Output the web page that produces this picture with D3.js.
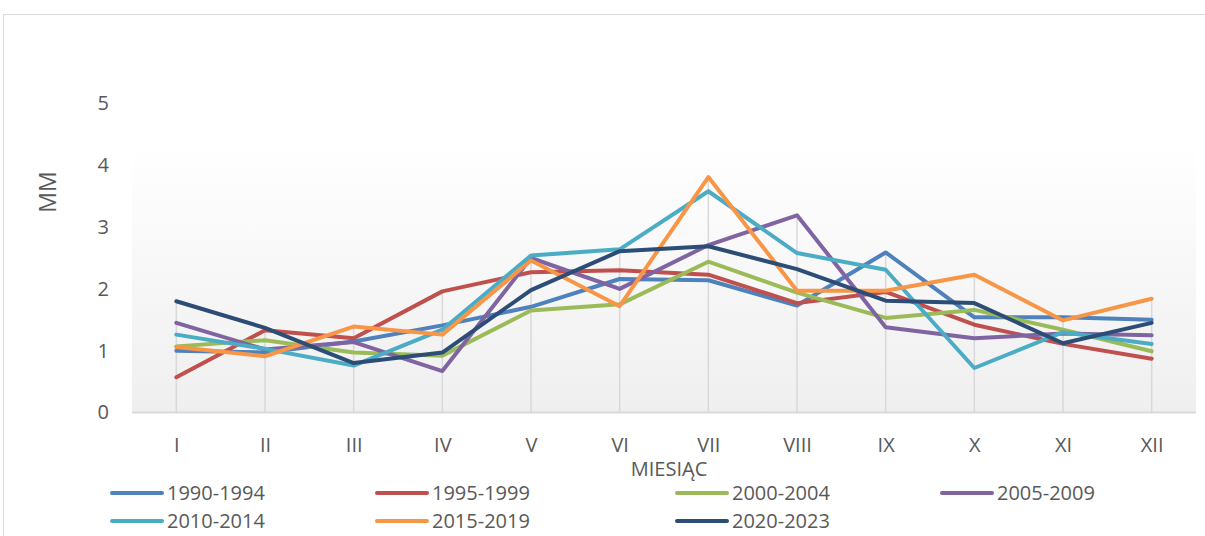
<!DOCTYPE html>
<html>
<head>
<meta charset="utf-8">
<script src="https://cdn.jsdelivr.net/npm/d3@7"></script>
<style>
    body { margin: 0; background: #fff; }
    svg { display: block; }
</style>
</head>
<body>
<svg id="chart"></svg>
<script>
// months on the x axis
const months = ['I', 'II', 'III', 'IV', 'V', 'VI', 'VII', 'VIII', 'IX', 'X', 'XI', 'XII'];
const yTicks = [0, 1, 2, 3, 4, 5];

// series values (mm)
const s1990_1994 = [1.00, 0.97, 1.15, 1.41, 1.71, 2.16, 2.14, 1.73, 2.59, 1.54, 1.54, 1.50];
const s1995_1999 = [0.57, 1.33, 1.20, 1.96, 2.27, 2.30, 2.23, 1.77, 1.95, 1.42, 1.11, 0.87];
const s2000_2004 = [1.07, 1.17, 0.97, 0.92, 1.65, 1.75, 2.44, 1.94, 1.53, 1.66, 1.34, 0.99];
const s2005_2009 = [1.45, 1.02, 1.14, 0.67, 2.50, 2.00, 2.71, 3.19, 1.38, 1.20, 1.28, 1.25];
const s2010_2014 = [1.26, 1.03, 0.76, 1.34, 2.54, 2.64, 3.58, 2.58, 2.31, 0.72, 1.30, 1.11];
const s2015_2019 = [1.06, 0.91, 1.39, 1.26, 2.46, 1.72, 3.81, 1.97, 1.97, 2.23, 1.49, 1.84];
const s2020_2023 = [1.80, 1.37, 0.80, 0.97, 1.98, 2.61, 2.69, 2.32, 1.81, 1.77, 1.12, 1.45];

const seriesNames = ['1990-1994', '1995-1999', '2000-2004', '2005-2009', '2010-2014', '2015-2019', '2020-2023'];
const seriesValues = [s1990_1994, s1995_1999, s2000_2004, s2005_2009, s2010_2014, s2015_2019, s2020_2023];
const seriesColors = ['#4F81BD', '#C0504D', '#9BBB59', '#8064A2', '#4BACC6', '#F79646', '#2C4D75'];

const width = 1205;
const height = 536;
const plot = { left: 132, right: 1196, top: 103.5, bottom: 412.5, shadeTop: 145 };
const font = '"Open Sans", sans-serif';
const textColor = '#595959';

const svg = d3.select('#chart').attr('width', width).attr('height', height);

// chart area border (only top and left edges are inside the picture)
svg.append('rect')
    .attr('x', 3.5)
    .attr('y', 14.5)
    .attr('width', width + 10)
    .attr('height', height + 10)
    .attr('fill', 'white')
    .attr('stroke', '#d9d9d9')
    .attr('stroke-width', 1);

// plot area shading
const grad = svg.append('defs').append('linearGradient')
    .attr('id', 'plotFill')
    .attr('x1', 0).attr('y1', 0).attr('x2', 0).attr('y2', 1);
grad.append('stop').attr('offset', '0%').attr('stop-color', '#ffffff');
grad.append('stop').attr('offset', '100%').attr('stop-color', '#efefef');

svg.append('rect')
    .attr('x', plot.left)
    .attr('y', plot.shadeTop)
    .attr('width', plot.right - plot.left)
    .attr('height', plot.bottom - plot.shadeTop)
    .attr('fill', 'url(#plotFill)');

const xScale = d3.scalePoint()
    .domain(months)
    .range([plot.left, plot.right])
    .padding(0.5);

const yScale = d3.scaleLinear()
    .domain([0, 5])
    .range([plot.bottom, plot.top]);

// drop lines from the highest value down to the axis
svg.append('g')
    .selectAll('line')
    .data(months)
    .enter()
    .append('line')
    .attr('x1', d => xScale(d))
    .attr('x2', d => xScale(d))
    .attr('y1', plot.bottom)
    .attr('y2', (d, i) => yScale(d3.max(seriesValues, s => s[i])))
    .attr('stroke', '#d9d9d9')
    .attr('stroke-width', 1.5);

// x axis
const xAxis = svg.append('g')
    .attr('transform', `translate(0, ${plot.bottom})`)
    .call(d3.axisBottom(xScale).tickSize(0).tickPadding(25));
xAxis.select('.domain')
    .attr('d', `M${plot.left},0H${plot.right}`)
    .attr('stroke', '#d9d9d9')
    .attr('stroke-width', 2);
xAxis.selectAll('text')
    .attr('font-family', font)
    .attr('font-size', '20px')
    .attr('fill', textColor);

// y axis (labels only)
const yAxis = svg.append('g')
    .attr('transform', `translate(109, 0)`)
    .call(d3.axisLeft(yScale).tickValues(yTicks).tickFormat(d3.format('d')).tickSize(0).tickPadding(0));
yAxis.select('.domain').remove();
yAxis.selectAll('text')
    .attr('font-family', font)
    .attr('font-size', '20px')
    .attr('fill', textColor);

// axis titles
svg.append('text')
    .attr('transform', 'translate(56, 192) rotate(-90)')
    .attr('text-anchor', 'middle')
    .attr('font-family', font)
    .attr('font-size', '23px')
    .attr('fill', textColor)
    .text('MM');

svg.append('text')
    .attr('x', 669)
    .attr('y', 476)
    .attr('text-anchor', 'middle')
    .attr('font-family', font)
    .attr('font-size', '20px')
    .attr('fill', textColor)
    .text('MIESIĄC');

// series lines
const line = d3.line()
    .x((d, i) => xScale(months[i]))
    .y(d => yScale(d));

seriesValues.forEach((values, k) => {
    svg.append('path')
        .datum(values)
        .attr('fill', 'none')
        .attr('stroke', seriesColors[k])
        .attr('stroke-width', 4)
        .attr('stroke-linejoin', 'round')
        .attr('stroke-linecap', 'round')
        .attr('d', line);
});

// legend: 4 columns, 2 rows
const legendCols = [112, 377, 677, 942];
const legendRows = [493, 521];
const legend = svg.append('g');
seriesNames.forEach((name, k) => {
    const lx = legendCols[k % 4];
    const ly = legendRows[Math.floor(k / 4)];
    legend.append('line')
        .attr('x1', lx)
        .attr('x2', lx + 50)
        .attr('y1', ly)
        .attr('y2', ly)
        .attr('stroke', seriesColors[k])
        .attr('stroke-width', 4)
        .attr('stroke-linecap', 'round');
    legend.append('text')
        .attr('x', lx + 55)
        .attr('y', ly)
        .attr('dy', '0.36em')
        .attr('font-family', font)
        .attr('font-size', '20px')
        .attr('fill', textColor)
        .text(name);
});
</script>
</body>
</html>
